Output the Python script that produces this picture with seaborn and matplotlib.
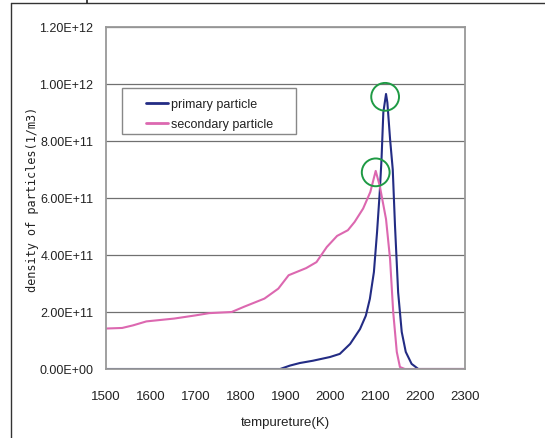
import matplotlib
matplotlib.use("Agg")
import matplotlib.pyplot as plt
import seaborn as sns
import pandas as pd
from matplotlib.lines import Line2D
from matplotlib.patches import Rectangle

# ---- data ----
primary_T = [1500, 1600, 1700, 1800, 1888, 1910, 1932, 1961, 1999, 2021, 2044, 2066,
             2079, 2088, 2097, 2104, 2110, 2114, 2118, 2124, 2127, 2133, 2139, 2144,
             2151, 2159, 2168, 2181, 2196, 2250, 2300]
primary_n = [0, 0, 0, 0, 0.0, 0.12e11, 0.21e11, 0.29e11, 0.42e11, 0.53e11, 0.88e11, 1.4e11,
             1.87e11, 2.46e11, 3.4e11, 4.8e11, 6.2e11, 7.37e11, 9.0e11, 9.65e11, 9.35e11,
             8.07e11, 7.0e11, 5.03e11, 2.69e11, 1.3e11, 0.6e11, 0.18e11, 0, 0, 0]

secondary_T = [1500, 1536, 1560, 1590, 1652, 1699, 1730, 1780, 1807, 1853, 1884, 1907,
               1946, 1969, 1992, 2015, 2039, 2054, 2073, 2089, 2101, 2110, 2124, 2133,
               2140, 2148, 2155, 2166, 2200, 2300]
secondary_n = [1.42e11, 1.44e11, 1.53e11, 1.67e11, 1.77e11, 1.88e11, 1.96e11, 2.0e11,
               2.18e11, 2.47e11, 2.82e11, 3.29e11, 3.54e11, 3.75e11, 4.28e11, 4.67e11,
               4.87e11, 5.16e11, 5.63e11, 6.21e11, 6.95e11, 6.43e11, 5.26e11, 3.86e11,
               2.0e11, 0.6e11, 0.07e11, 0, 0, 0]

circle_T = [2122, 2101]
circle_n = [9.55e11, 6.9e11]

series_names = ["primary particle", "secondary particle"]
x_ticks = [1500, 1600, 1700, 1800, 1900, 2000, 2100, 2200, 2300]
y_ticks = [0, 2e11, 4e11, 6e11, 8e11, 1e12, 1.2e12]
y_tick_labels = ["0.00E+00", "2.00E+11", "4.00E+11", "6.00E+11", "8.00E+11", "1.00E+12", "1.20E+12"]

df = pd.concat([
    pd.DataFrame({"T": primary_T, "n": primary_n, "series": series_names[0]}),
    pd.DataFrame({"T": secondary_T, "n": secondary_n, "series": series_names[1]}),
])

sns.set_style("white")
plt.rcParams["font.family"] = ["Liberation Sans", "DejaVu Sans"]

fig = plt.figure(figsize=(5.45, 4.39), dpi=100)
ax = fig.add_axes([106 / 545, 69 / 439, 359 / 545, 342 / 439])

palette = {series_names[0]: "#232c84", series_names[1]: "#dc68b0"}
sns.lineplot(data=df, x="T", y="n", hue="series", palette=palette, linewidth=1.5,
             ax=ax, sort=False, legend=True)
ax.scatter(circle_T, circle_n, s=400, facecolors="none", edgecolors="#1e9a44",
           linewidths=1.4, zorder=5)

ax.set_xlim(1500, 2300)
ax.set_ylim(0, 1.2e12)
ax.set_xticks(x_ticks)
ax.set_xticklabels([str(t) for t in x_ticks], fontsize=9.5, color="#222222")
ax.set_yticks(y_ticks)
ax.set_yticklabels(y_tick_labels, fontsize=9, color="#222222")
ax.yaxis.grid(True, color="#707070", linewidth=0.9)
ax.xaxis.grid(False)
ax.set_axisbelow(True)
ax.tick_params(axis="x", direction="in", length=3, color="#888888", pad=15)
ax.tick_params(axis="y", length=0, pad=9)
for s in ax.spines.values():
    s.set_color("#999999")
    s.set_linewidth(1.3)

ax.set_xlabel("tempureture(K)", fontsize=9.5, color="#222222", labelpad=10)
ax.set_ylabel("density of particles(1/m3)", fontsize=8.6, color="#222222",
              family="DejaVu Sans Mono", labelpad=0)

# legend box frame (as in the reference, with wide side margins)
ax.add_patch(Rectangle((16 / 359, (370 - 135) / 342), 174 / 359, 46 / 342,
                       transform=ax.transAxes, facecolor="white", edgecolor="#888888",
                       linewidth=1.0, zorder=6))
leg = ax.legend(loc="upper left", bbox_to_anchor=(40 / 359, (370 - 99) / 342),
                frameon=False, fontsize=9, handlelength=1.75,
                handletextpad=0.25, borderpad=0, labelspacing=0.68,
                borderaxespad=0)
leg.set_zorder(7)
for h in leg.get_lines():
    h.set_linewidth(2.0)
for t in leg.get_texts():
    t.set_color("#222222")

# outer border of the surrounding document cell, and the descender of a cut-off letter above it
fig.add_artist(Line2D([11 / 545, 1], [1 - 4 / 439, 1 - 4 / 439], color="#333333", linewidth=1.0))
fig.add_artist(Line2D([11 / 545, 11 / 545], [0, 1 - 4 / 439], color="#333333", linewidth=1.0))
fig.add_artist(Line2D([87 / 545, 87 / 545], [1, 1 - 4 / 439], color="#222222", linewidth=1.2))

fig.savefig("out.png", dpi=100)
